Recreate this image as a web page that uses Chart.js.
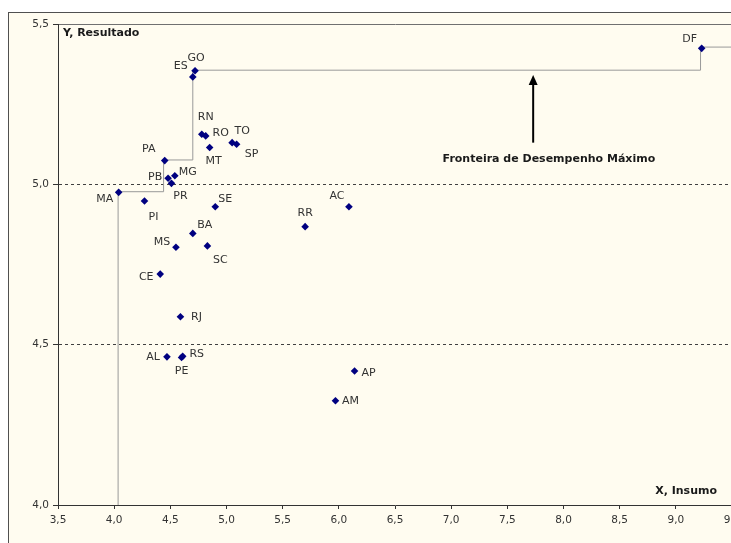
<!DOCTYPE html>
<html>
<head>
<meta charset="utf-8">
<script src="https://cdn.jsdelivr.net/npm/chart.js@4/dist/chart.umd.min.js"></script>
<style>
  html, body { margin:0; padding:0; background:#ffffff; overflow:hidden; width:731px; height:543px; }
  #wrap { position:absolute; left:8px; top:12px; width:790px; height:570px;
          border-left:1px solid #505050; border-top:1px solid #505050; background:#fffcf0; }
  canvas { position:absolute; left:0; top:0; }
</style>
</head>
<body>
<div id="wrap"><canvas id="c" width="780" height="560"></canvas></div>
<script>
// ---- data ----
const states   = ['DF','GO','ES','RN','RO','MT','TO','SP','PA','PB','MG','PR','MA','PI','SE','BA','MS','SC','CE','RJ','AL','RS','PE','AC','RR','AP','AM'];
const insumo   = [9.23, 4.72, 4.70, 4.78, 4.815, 4.85, 5.05, 5.09, 4.45, 4.48, 4.54, 4.51, 4.04, 4.27, 4.90, 4.70, 4.55, 4.83, 4.41, 4.59, 4.47, 4.61, 4.60, 6.09, 5.70, 6.14, 5.97];
const resultado= [5.424,5.354,5.335,5.156,5.151,5.115,5.130,5.125,5.074,5.019,5.027,5.003,4.975,4.948,4.930,4.847,4.804,4.808,4.720,4.587,4.462,4.464,4.460,4.930,4.868,4.418,4.325];
const frontierX = [4.035, 4.035, 4.44, 4.70, 9.22, 9.6];
const frontierY = [4.0, 4.977, 5.076, 5.356, 5.428, 5.428];
const xTickValues = [3.5,4.0,4.5,5.0,5.5,6.0,6.5,7.0,7.5,8.0,8.5,9.0,9.5];
const xTickLabels = ['3,5','4,0','4,5','5,0','5,5','6,0','6,5','7,0','7,5','8,0','8,5','9,0','9,5'];
const yTickValues = [4.0,4.5,5.0,5.5];
const yTickLabels = ['4,0','4,5','5,0','5,5'];
const yTitle = 'Y, Resultado';
const xTitle = 'X, Insumo';
const annotationText = 'Fronteira de Desempenho Máximo';
const arrowX = 7.73, arrowFromY = 5.13, arrowToY = 5.341;
const annotationX = 7.87, annotationY = 5.08;

// label offsets (pixels) relative to each point
const labelOffsets = {
  DF:[-12,-9], GO:[1,-13], ES:[-12,-11], RN:[4,-17], RO:[15,-3], MT:[4,14], TO:[10,-12], SP:[15,10],
  PA:[-16,-11], PB:[-13,-1], MG:[13,-4], PR:[9,13], MA:[-14,7], PI:[9,16], SE:[10,-8], BA:[12,-8],
  MS:[-14,-5], SC:[13,14], CE:[-14,3], RJ:[16,0], AL:[-14,0], RS:[14,-2], PE:[0,14], AC:[-12,-11],
  RR:[0,-14], AP:[14,2], AM:[15,0]
};

const FONT = '"DejaVu Sans", Verdana, sans-serif';

const points = states.map((s,i)=>({x:insumo[i], y:resultado[i], label:s}));
const frontier = frontierX.map((x,i)=>({x, y:frontierY[i]}));

const overlay = {
  id:'overlay',
  afterDatasetsDraw(chart){
    const ctx = chart.ctx, xs = chart.scales.x, ys = chart.scales.y, ca = chart.chartArea;
    ctx.save();
    // point labels
    ctx.font = '11px ' + FONT;
    ctx.fillStyle = '#333';
    ctx.textAlign = 'center';
    ctx.textBaseline = 'middle';
    const meta = chart.getDatasetMeta(1);
    meta.data.forEach((el,i)=>{
      const s = states[i];
      const o = labelOffsets[s] || [0,-12];
      ctx.fillText(s, el.x + o[0], el.y + o[1]);
    });
    // axis titles
    ctx.font = 'bold 11px ' + FONT;
    ctx.fillStyle = '#1a1a1a';
    ctx.textAlign = 'left';
    ctx.fillText(yTitle, ca.left + 5, ca.top + 9);
    ctx.textAlign = 'right';
    ctx.fillText(xTitle, xs.getPixelForValue(9.5) - 15, ca.bottom - 14);
    // arrow
    const ax = xs.getPixelForValue(arrowX), ay0 = ys.getPixelForValue(arrowFromY), ay1 = ys.getPixelForValue(arrowToY);
    ctx.strokeStyle = '#000'; ctx.fillStyle = '#000'; ctx.lineWidth = 2;
    ctx.beginPath(); ctx.moveTo(ax, ay0); ctx.lineTo(ax, ay1 + 8); ctx.stroke();
    ctx.beginPath(); ctx.moveTo(ax, ay1); ctx.lineTo(ax-4.5, ay1+10); ctx.lineTo(ax+4.5, ay1+10); ctx.closePath(); ctx.fill();
    // annotation text
    ctx.font = 'bold 11px ' + FONT;
    ctx.fillStyle = '#1a1a1a';
    ctx.textAlign = 'center';
    ctx.fillText(annotationText, xs.getPixelForValue(annotationX), ys.getPixelForValue(annotationY));
    ctx.restore();
  }
};

new Chart(document.getElementById('c'), {
  type:'scatter',
  data:{
    datasets:[
      { label:'Fronteira', data:frontier, showLine:true, stepped:'before', borderColor:'#999999', borderWidth:1,
        pointRadius:0, fill:false, order:2 },
      { label:'Estados', data:points, pointStyle:'rectRot', pointRadius:3.8, pointBackgroundColor:'#000080',
        pointBorderColor:'#000080', borderWidth:0, pointBorderWidth:0, showLine:false, order:1 }
    ]
  },
  options:{
    responsive:false, animation:false, devicePixelRatio:1,
    layout:{ padding:{ left:0, top:11, right:57, bottom:0 } },
    plugins:{ legend:{display:false}, tooltip:{enabled:false} },
    scales:{
      x:{
        type:'linear', min:3.5, max:9.5,
        afterBuildTicks(s){ s.ticks = xTickValues.map(v=>({value:v})); },
        afterFit(s){ s.height = 68; },
        ticks:{ font:{family:FONT, size:10.5}, color:'#333', padding:5, maxRotation:0, autoSkip:false,
          callback(v){ const i = xTickValues.findIndex(t=>Math.abs(t-v)<1e-9); return i>=0 ? xTickLabels[i] : ''; } },
        grid:{ drawOnChartArea:false, drawTicks:true, tickLength:4, tickColor:'#333' },
        border:{ display:true, color:'#333', width:1 }
      },
      y:{
        type:'linear', min:4.0, max:5.5,
        afterBuildTicks(s){ s.ticks = yTickValues.map(v=>({value:v})); },
        afterFit(s){ s.width = 49; },
        ticks:{ font:{family:FONT, size:10.5}, color:'#333', padding:4,
          callback(v){ const i = yTickValues.findIndex(t=>Math.abs(t-v)<1e-9); return i>=0 ? yTickLabels[i] : ''; } },
        grid:{ drawOnChartArea:true, drawTicks:true, tickLength:5, tickColor:'#333', lineWidth:1,
          color(ctx){ const v = ctx.tick ? ctx.tick.value : null;
            if (v===null) return 'transparent';
            if (Math.abs(v-5.5)<1e-9) return '#707070';
            if (Math.abs(v-4.0)<1e-9) return 'transparent';
            return '#404040'; } },
        border:{ display:true, color:'#333', width:1,
          dash(ctx){ const v = ctx.tick ? ctx.tick.value : null; return (v!==null && Math.abs(v-5.5)<1e-9) ? [] : [3,3]; } }
      }
    }
  },
  plugins:[overlay]
});
</script>
</body>
</html>
